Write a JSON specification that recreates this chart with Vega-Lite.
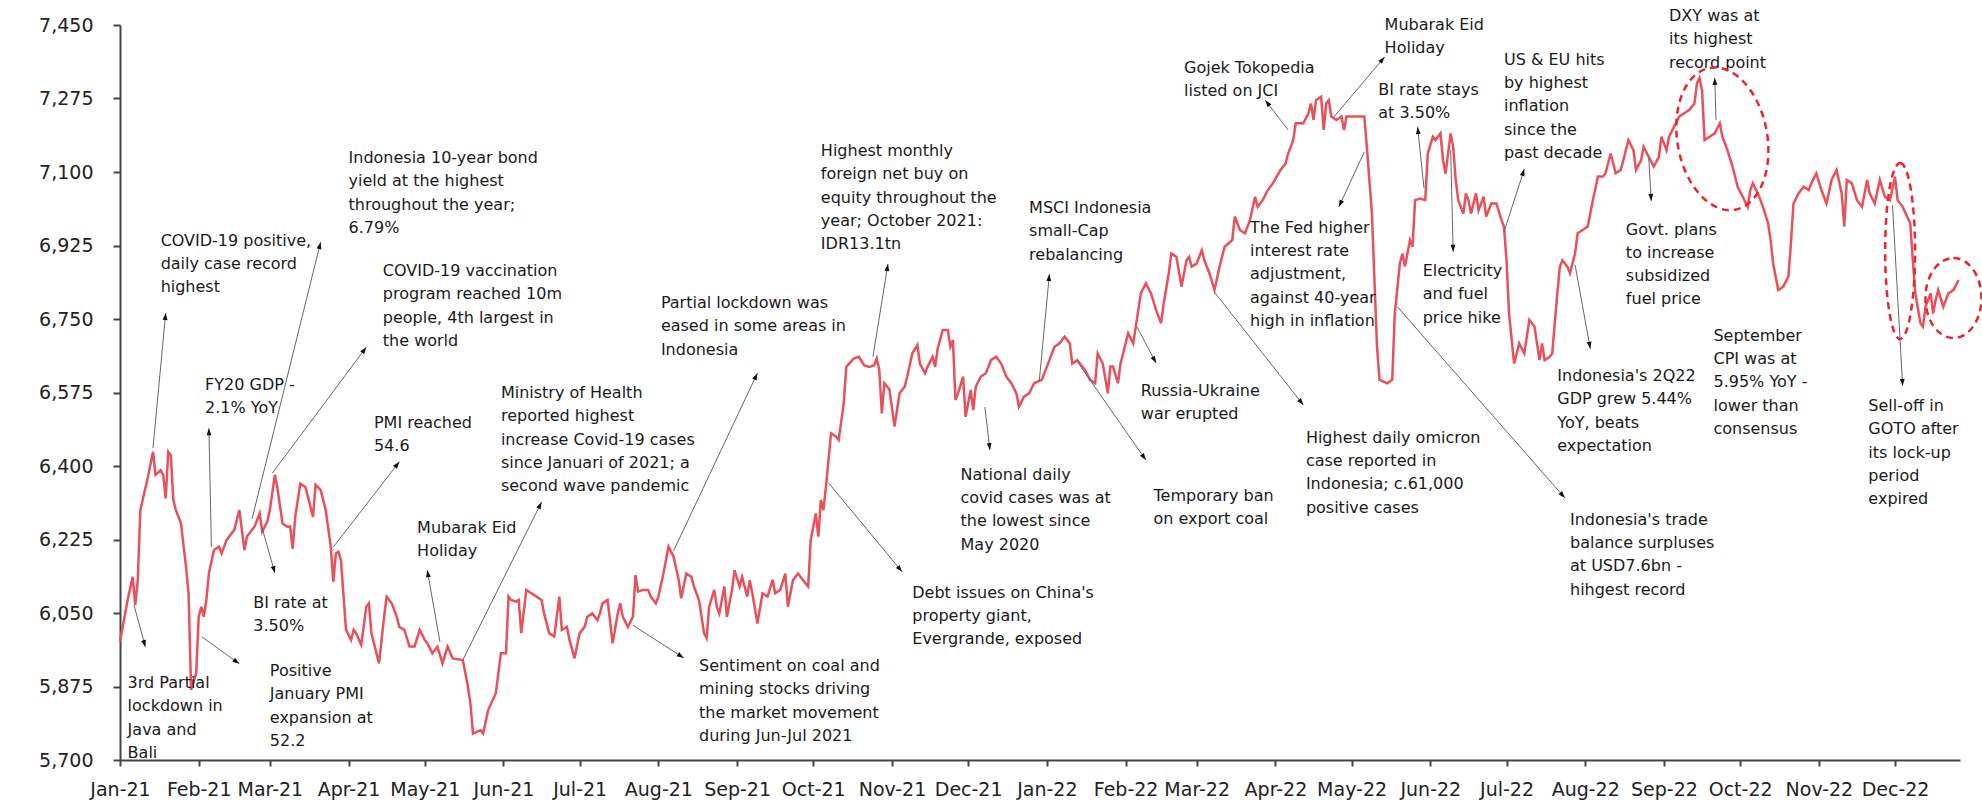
{
"$schema": "https://vega.github.io/schema/vega-lite/v6.json",
"width": 1840, "height": 735,
"autosize": {"type": "none"},
"padding": {"left": 120, "top": 25, "right": 22, "bottom": 44},
"background": "white",
"config": {"view": {"stroke": null}, "font": "DejaVu Sans"},
"datasets": {
"jci": [
{"date":"2021-01-01","v":5982},{"date":"2021-01-04","v":6081},{"date":"2021-01-06","v":6136},{"date":"2021-01-07","v":6069},{"date":"2021-01-08","v":6129},{"date":"2021-01-09","v":6295},{"date":"2021-01-12","v":6374},{"date":"2021-01-14","v":6434},{"date":"2021-01-15","v":6379},{"date":"2021-01-17","v":6390},{"date":"2021-01-18","v":6379},{"date":"2021-01-19","v":6323},{"date":"2021-01-20","v":6434},{"date":"2021-01-21","v":6426},{"date":"2021-01-22","v":6319},{"date":"2021-01-23","v":6295},{"date":"2021-01-25","v":6264},{"date":"2021-01-27","v":6160},{"date":"2021-01-28","v":6097},{"date":"2021-01-29","v":5867},{"date":"2021-01-31","v":5907},
{"date":"2021-02-01","v":6041},{"date":"2021-02-02","v":6065},{"date":"2021-02-03","v":6041},{"date":"2021-02-04","v":6081},{"date":"2021-02-05","v":6144},{"date":"2021-02-07","v":6200},{"date":"2021-02-09","v":6208},{"date":"2021-02-10","v":6192},{"date":"2021-02-12","v":6224},{"date":"2021-02-15","v":6248},{"date":"2021-02-17","v":6295},{"date":"2021-02-19","v":6200},{"date":"2021-02-20","v":6232},{"date":"2021-02-23","v":6256},{"date":"2021-02-25","v":6287},{"date":"2021-02-26","v":6244},{"date":"2021-02-28","v":6267},
{"date":"2021-03-01","v":6295},{"date":"2021-03-03","v":6379},{"date":"2021-03-04","v":6347},{"date":"2021-03-06","v":6263},{"date":"2021-03-08","v":6255},{"date":"2021-03-09","v":6256},{"date":"2021-03-10","v":6203},{"date":"2021-03-11","v":6279},{"date":"2021-03-13","v":6358},{"date":"2021-03-15","v":6350},{"date":"2021-03-18","v":6279},{"date":"2021-03-19","v":6355},{"date":"2021-03-21","v":6343},{"date":"2021-03-23","v":6295},{"date":"2021-03-25","v":6208},{"date":"2021-03-26","v":6124},{"date":"2021-03-27","v":6192},{"date":"2021-03-28","v":6196},{"date":"2021-03-29","v":6176},{"date":"2021-03-31","v":6010},
{"date":"2021-04-02","v":5986},{"date":"2021-04-03","v":6010},{"date":"2021-04-04","v":6002},{"date":"2021-04-06","v":5974},{"date":"2021-04-08","v":6065},{"date":"2021-04-09","v":6073},{"date":"2021-04-10","v":6002},{"date":"2021-04-12","v":5954},{"date":"2021-04-13","v":5930},{"date":"2021-04-15","v":6041},{"date":"2021-04-16","v":6089},{"date":"2021-04-18","v":6073},{"date":"2021-04-20","v":6041},{"date":"2021-04-21","v":6017},{"date":"2021-04-23","v":6010},{"date":"2021-04-25","v":5970},{"date":"2021-04-27","v":5970},{"date":"2021-04-29","v":6010},
{"date":"2021-05-01","v":5986},{"date":"2021-05-02","v":5978},{"date":"2021-05-04","v":5954},{"date":"2021-05-06","v":5970},{"date":"2021-05-08","v":5930},{"date":"2021-05-10","v":5970},{"date":"2021-05-12","v":5942},{"date":"2021-05-16","v":5938},{"date":"2021-05-18","v":5875},{"date":"2021-05-19","v":5835},{"date":"2021-05-20","v":5763},{"date":"2021-05-23","v":5771},{"date":"2021-05-24","v":5763},{"date":"2021-05-26","v":5819},{"date":"2021-05-29","v":5859},{"date":"2021-05-31","v":5954},
{"date":"2021-06-02","v":5954},{"date":"2021-06-03","v":6089},{"date":"2021-06-04","v":6081},{"date":"2021-06-06","v":6077},{"date":"2021-06-07","v":6081},{"date":"2021-06-08","v":6002},{"date":"2021-06-10","v":6105},{"date":"2021-06-12","v":6097},{"date":"2021-06-14","v":6089},{"date":"2021-06-16","v":6081},{"date":"2021-06-17","v":6049},{"date":"2021-06-19","v":6002},{"date":"2021-06-21","v":5994},{"date":"2021-06-23","v":6089},{"date":"2021-06-24","v":6010},{"date":"2021-06-26","v":6017},{"date":"2021-06-27","v":5986},{"date":"2021-06-29","v":5942},
{"date":"2021-07-01","v":6002},{"date":"2021-07-03","v":6017},{"date":"2021-07-04","v":6041},{"date":"2021-07-06","v":6049},{"date":"2021-07-08","v":6033},{"date":"2021-07-09","v":6049},{"date":"2021-07-10","v":6073},{"date":"2021-07-12","v":6081},{"date":"2021-07-14","v":5978},{"date":"2021-07-16","v":6049},{"date":"2021-07-17","v":6073},{"date":"2021-07-18","v":6041},{"date":"2021-07-20","v":6017},{"date":"2021-07-22","v":6041},{"date":"2021-07-23","v":6140},{"date":"2021-07-24","v":6101},{"date":"2021-07-26","v":6105},{"date":"2021-07-28","v":6105},{"date":"2021-07-29","v":6089},{"date":"2021-07-31","v":6073},
{"date":"2021-08-01","v":6089},{"date":"2021-08-03","v":6144},{"date":"2021-08-05","v":6208},{"date":"2021-08-07","v":6184},{"date":"2021-08-09","v":6129},{"date":"2021-08-10","v":6085},{"date":"2021-08-12","v":6144},{"date":"2021-08-14","v":6136},{"date":"2021-08-15","v":6113},{"date":"2021-08-17","v":6081},{"date":"2021-08-19","v":6002},{"date":"2021-08-20","v":5990},{"date":"2021-08-21","v":6065},{"date":"2021-08-23","v":6105},{"date":"2021-08-24","v":6065},{"date":"2021-08-25","v":6049},{"date":"2021-08-27","v":6113},{"date":"2021-08-28","v":6041},{"date":"2021-08-30","v":6105},{"date":"2021-08-31","v":6152},
{"date":"2021-09-02","v":6113},{"date":"2021-09-03","v":6136},{"date":"2021-09-05","v":6089},{"date":"2021-09-06","v":6128},{"date":"2021-09-07","v":6097},{"date":"2021-09-09","v":6025},{"date":"2021-09-11","v":6097},{"date":"2021-09-13","v":6089},{"date":"2021-09-15","v":6129},{"date":"2021-09-16","v":6097},{"date":"2021-09-18","v":6105},{"date":"2021-09-20","v":6144},{"date":"2021-09-21","v":6065},{"date":"2021-09-23","v":6128},{"date":"2021-09-25","v":6144},{"date":"2021-09-27","v":6128},{"date":"2021-09-29","v":6113},{"date":"2021-09-30","v":6224},
{"date":"2021-10-02","v":6287},{"date":"2021-10-03","v":6232},{"date":"2021-10-04","v":6319},{"date":"2021-10-05","v":6295},{"date":"2021-10-06","v":6351},{"date":"2021-10-07","v":6414},{"date":"2021-10-08","v":6478},{"date":"2021-10-10","v":6470},{"date":"2021-10-11","v":6462},{"date":"2021-10-13","v":6549},{"date":"2021-10-14","v":6636},{"date":"2021-10-17","v":6656},{"date":"2021-10-19","v":6660},{"date":"2021-10-21","v":6640},{"date":"2021-10-23","v":6636},{"date":"2021-10-25","v":6640},{"date":"2021-10-26","v":6656},{"date":"2021-10-27","v":6628},{"date":"2021-10-28","v":6525},{"date":"2021-10-29","v":6597},{"date":"2021-10-31","v":6582},
{"date":"2021-11-02","v":6494},{"date":"2021-11-04","v":6573},{"date":"2021-11-06","v":6589},{"date":"2021-11-07","v":6613},{"date":"2021-11-09","v":6668},{"date":"2021-11-11","v":6688},{"date":"2021-11-12","v":6644},{"date":"2021-11-14","v":6621},{"date":"2021-11-15","v":6636},{"date":"2021-11-17","v":6660},{"date":"2021-11-18","v":6636},{"date":"2021-11-19","v":6680},{"date":"2021-11-21","v":6724},{"date":"2021-11-23","v":6724},{"date":"2021-11-24","v":6684},{"date":"2021-11-25","v":6700},{"date":"2021-11-26","v":6557},{"date":"2021-11-27","v":6573},{"date":"2021-11-29","v":6613},{"date":"2021-11-30","v":6517},
{"date":"2021-12-02","v":6581},{"date":"2021-12-03","v":6533},{"date":"2021-12-04","v":6589},{"date":"2021-12-06","v":6613},{"date":"2021-12-08","v":6621},{"date":"2021-12-10","v":6652},{"date":"2021-12-12","v":6660},{"date":"2021-12-14","v":6644},{"date":"2021-12-16","v":6613},{"date":"2021-12-18","v":6597},{"date":"2021-12-20","v":6573},{"date":"2021-12-21","v":6541},{"date":"2021-12-23","v":6565},{"date":"2021-12-25","v":6573},{"date":"2021-12-27","v":6597},{"date":"2021-12-30","v":6605},
{"date":"2022-01-02","v":6652},{"date":"2022-01-04","v":6684},{"date":"2022-01-06","v":6692},{"date":"2022-01-08","v":6708},{"date":"2022-01-10","v":6692},{"date":"2022-01-11","v":6644},{"date":"2022-01-13","v":6652},{"date":"2022-01-16","v":6629},{"date":"2022-01-18","v":6605},{"date":"2022-01-20","v":6597},{"date":"2022-01-21","v":6668},{"date":"2022-01-23","v":6644},{"date":"2022-01-25","v":6573},{"date":"2022-01-26","v":6637},{"date":"2022-01-27","v":6637},{"date":"2022-01-29","v":6597},{"date":"2022-01-30","v":6644},{"date":"2022-01-31","v":6668},
{"date":"2022-02-02","v":6716},{"date":"2022-02-04","v":6692},{"date":"2022-02-06","v":6771},{"date":"2022-02-07","v":6811},{"date":"2022-02-09","v":6835},{"date":"2022-02-11","v":6811},{"date":"2022-02-13","v":6771},{"date":"2022-02-15","v":6740},{"date":"2022-02-16","v":6787},{"date":"2022-02-18","v":6859},{"date":"2022-02-19","v":6906},{"date":"2022-02-21","v":6898},{"date":"2022-02-23","v":6827},{"date":"2022-02-25","v":6890},{"date":"2022-02-26","v":6898},{"date":"2022-02-27","v":6875},
{"date":"2022-03-01","v":6882},{"date":"2022-03-03","v":6914},{"date":"2022-03-04","v":6890},{"date":"2022-03-06","v":6859},{"date":"2022-03-08","v":6819},{"date":"2022-03-10","v":6875},{"date":"2022-03-12","v":6922},{"date":"2022-03-15","v":6938},{"date":"2022-03-16","v":6994},{"date":"2022-03-18","v":6962},{"date":"2022-03-20","v":6954},{"date":"2022-03-22","v":6986},{"date":"2022-03-24","v":7041},{"date":"2022-03-25","v":7017},{"date":"2022-03-27","v":7033},{"date":"2022-03-29","v":7057},{"date":"2022-03-31","v":7073},
{"date":"2022-04-03","v":7105},{"date":"2022-04-05","v":7120},{"date":"2022-04-06","v":7144},{"date":"2022-04-08","v":7176},{"date":"2022-04-09","v":7216},{"date":"2022-04-12","v":7216},{"date":"2022-04-14","v":7240},{"date":"2022-04-15","v":7263},{"date":"2022-04-16","v":7224},{"date":"2022-04-17","v":7271},{"date":"2022-04-19","v":7279},{"date":"2022-04-20","v":7200},{"date":"2022-04-21","v":7263},{"date":"2022-04-22","v":7271},{"date":"2022-04-23","v":7232},{"date":"2022-04-25","v":7224},{"date":"2022-04-27","v":7232},{"date":"2022-04-28","v":7200},{"date":"2022-04-29","v":7232},
{"date":"2022-05-06","v":7232},{"date":"2022-05-07","v":7160},{"date":"2022-05-09","v":7001},{"date":"2022-05-10","v":6843},{"date":"2022-05-11","v":6684},{"date":"2022-05-12","v":6605},{"date":"2022-05-15","v":6597},{"date":"2022-05-17","v":6605},{"date":"2022-05-18","v":6763},{"date":"2022-05-20","v":6882},{"date":"2022-05-21","v":6906},{"date":"2022-05-22","v":6875},{"date":"2022-05-24","v":6938},{"date":"2022-05-25","v":6922},{"date":"2022-05-26","v":7033},{"date":"2022-05-28","v":7037},{"date":"2022-05-30","v":7033},{"date":"2022-05-31","v":7144},
{"date":"2022-06-02","v":7184},{"date":"2022-06-03","v":7176},{"date":"2022-06-05","v":7192},{"date":"2022-06-06","v":7128},{"date":"2022-06-07","v":7096},{"date":"2022-06-09","v":7192},{"date":"2022-06-10","v":7160},{"date":"2022-06-11","v":7081},{"date":"2022-06-12","v":7033},{"date":"2022-06-14","v":7001},{"date":"2022-06-15","v":7049},{"date":"2022-06-16","v":7033},{"date":"2022-06-17","v":7001},{"date":"2022-06-19","v":7049},{"date":"2022-06-20","v":7009},{"date":"2022-06-22","v":7041},{"date":"2022-06-23","v":6994},{"date":"2022-06-25","v":7025},{"date":"2022-06-27","v":7025},{"date":"2022-06-29","v":6986},{"date":"2022-06-30","v":6970},
{"date":"2022-07-01","v":6890},{"date":"2022-07-02","v":6763},{"date":"2022-07-04","v":6644},{"date":"2022-07-06","v":6692},{"date":"2022-07-08","v":6668},{"date":"2022-07-10","v":6748},{"date":"2022-07-11","v":6740},{"date":"2022-07-12","v":6732},{"date":"2022-07-14","v":6652},{"date":"2022-07-15","v":6692},{"date":"2022-07-16","v":6652},{"date":"2022-07-18","v":6660},{"date":"2022-07-19","v":6668},{"date":"2022-07-21","v":6811},{"date":"2022-07-22","v":6874},{"date":"2022-07-23","v":6890},{"date":"2022-07-25","v":6874},{"date":"2022-07-26","v":6859},{"date":"2022-07-28","v":6906},{"date":"2022-07-29","v":6954},{"date":"2022-07-31","v":6962},
{"date":"2022-08-02","v":6970},{"date":"2022-08-04","v":7033},{"date":"2022-08-06","v":7089},{"date":"2022-08-08","v":7089},{"date":"2022-08-09","v":7097},{"date":"2022-08-11","v":7144},{"date":"2022-08-13","v":7097},{"date":"2022-08-15","v":7105},{"date":"2022-08-16","v":7128},{"date":"2022-08-18","v":7176},{"date":"2022-08-20","v":7152},{"date":"2022-08-21","v":7105},{"date":"2022-08-23","v":7128},{"date":"2022-08-24","v":7160},{"date":"2022-08-26","v":7136},{"date":"2022-08-28","v":7113},{"date":"2022-08-30","v":7136},{"date":"2022-08-31","v":7184},
{"date":"2022-09-02","v":7152},{"date":"2022-09-03","v":7184},{"date":"2022-09-05","v":7208},{"date":"2022-09-07","v":7232},{"date":"2022-09-09","v":7240},{"date":"2022-09-11","v":7248},{"date":"2022-09-13","v":7263},{"date":"2022-09-14","v":7311},{"date":"2022-09-15","v":7324},{"date":"2022-09-16","v":7295},{"date":"2022-09-17","v":7176},{"date":"2022-09-19","v":7184},{"date":"2022-09-21","v":7192},{"date":"2022-09-23","v":7216},{"date":"2022-09-24","v":7184},{"date":"2022-09-26","v":7152},{"date":"2022-09-28","v":7113},{"date":"2022-09-30","v":7065},
{"date":"2022-10-02","v":7041},{"date":"2022-10-04","v":7017},{"date":"2022-10-05","v":7057},{"date":"2022-10-06","v":7073},{"date":"2022-10-08","v":7049},{"date":"2022-10-10","v":7017},{"date":"2022-10-12","v":6978},{"date":"2022-10-13","v":6938},{"date":"2022-10-14","v":6882},{"date":"2022-10-16","v":6819},{"date":"2022-10-18","v":6827},{"date":"2022-10-20","v":6851},{"date":"2022-10-21","v":6930},{"date":"2022-10-22","v":7025},{"date":"2022-10-24","v":7049},{"date":"2022-10-26","v":7065},{"date":"2022-10-28","v":7057},{"date":"2022-10-29","v":7073},{"date":"2022-10-31","v":7097},
{"date":"2022-11-02","v":7057},{"date":"2022-11-04","v":7025},{"date":"2022-11-06","v":7081},{"date":"2022-11-08","v":7105},{"date":"2022-11-10","v":7049},{"date":"2022-11-11","v":6970},{"date":"2022-11-12","v":7081},{"date":"2022-11-14","v":7073},{"date":"2022-11-16","v":7033},{"date":"2022-11-18","v":7017},{"date":"2022-11-20","v":7081},{"date":"2022-11-21","v":7049},{"date":"2022-11-23","v":7025},{"date":"2022-11-25","v":7081},{"date":"2022-11-27","v":7041},{"date":"2022-11-29","v":7033},
{"date":"2022-12-01","v":7089},{"date":"2022-12-02","v":7033},{"date":"2022-12-04","v":7017},{"date":"2022-12-07","v":6978},{"date":"2022-12-08","v":6890},{"date":"2022-12-09","v":6811},{"date":"2022-12-11","v":6740},{"date":"2022-12-12","v":6732},{"date":"2022-12-13","v":6779},{"date":"2022-12-15","v":6811},{"date":"2022-12-16","v":6763},{"date":"2022-12-17","v":6795},{"date":"2022-12-18","v":6819},{"date":"2022-12-20","v":6779},{"date":"2022-12-22","v":6811},{"date":"2022-12-24","v":6819},{"date":"2022-12-26","v":6843}
],
"notes": [
{"d":"2021-01-17","v":6955,"t":["COVID-19 positive,","daily case record","highest"]},
{"d":"2021-04-01","v":7152,"t":["Indonesia 10-year bond","yield at the highest","throughout the year;","6.79%"]},
{"d":"2021-04-14T12:00","v":6883,"t":["COVID-19 vaccination","program  reached 10m","people, 4th largest in","the world"]},
{"d":"2021-02-03T12:00","v":6613,"t":["FY20 GDP -","2.1% YoY"]},
{"d":"2021-04-11","v":6521,"t":["PMI reached","54.6"]},
{"d":"2021-05-31","v":6593,"t":["Ministry of Health","reported highest","increase Covid-19 cases","since Januari of 2021; a","second wave pandemic"]},
{"d":"2021-04-28","v":6271,"t":["Mubarak Eid","Holiday"]},
{"d":"2021-02-22T12:00","v":6093,"t":["BI rate at","3.50%"]},
{"d":"2021-03-01","v":5931,"t":["Positive","January PMI","expansion at","52.2"]},
{"d":"2021-01-04","v":5902,"t":["3rd Partial","lockdown in","Java and","Bali"]},
{"d":"2021-08-02","v":6807,"t":["Partial lockdown was","eased in some areas in","Indonesia"]},
{"d":"2021-10-04","v":7169,"t":["Highest monthly","foreign net buy on","equity throughout the","year; October 2021:","IDR13.1tn"]},
{"d":"2021-08-17","v":5943,"t":["Sentiment on coal and","mining stocks driving","the market movement","during Jun-Jul 2021"]},
{"d":"2021-11-09","v":6117,"t":["Debt issues on China's","property giant,","Evergrande, exposed"]},
{"d":"2021-11-28","v":6398,"t":["National daily","covid cases was at","the lowest since","May 2020"]},
{"d":"2021-12-25","v":7033,"t":["MSCI Indonesia","small-Cap","rebalancing"]},
{"d":"2022-02-07","v":6598,"t":["Russia-Ukraine","war erupted"]},
{"d":"2022-02-12","v":6348,"t":["Temporary ban","on export coal"]},
{"d":"2022-04-13","v":6486,"t":["Highest daily omicron","case reported in","Indonesia; c.61,000","positive cases"]},
{"d":"2022-02-24","v":7367,"t":["Gojek Tokopedia","listed on JCI"]},
{"d":"2022-05-14","v":7470,"t":["Mubarak Eid","Holiday"]},
{"d":"2022-03-22","v":6986,"t":["The Fed higher","interest rate","adjustment,","against 40-year","high in inflation"]},
{"d":"2022-05-11T12:00","v":7315,"t":["BI rate stays","at 3.50%"]},
{"d":"2022-05-29","v":6883,"t":["Electricity","and fuel","price hike"]},
{"d":"2022-06-30","v":7386,"t":["US & EU hits","by highest","inflation","since the","past decade"]},
{"d":"2022-07-21","v":6633,"t":["Indonesia's 2Q22","GDP grew 5.44%","YoY, beats","expectation"]},
{"d":"2022-07-26","v":6291,"t":["Indonesia's trade","balance surpluses","at USD7.6bn -","hihgest record"]},
{"d":"2022-08-17","v":6982,"t":["Govt. plans","to increase","subsidized","fuel price"]},
{"d":"2022-09-03","v":7490,"t":["DXY was at","its highest","record point"]},
{"d":"2022-09-20T12:00","v":6729,"t":["September","CPI was at","5.95%  YoY -","lower than","consensus"]},
{"d":"2022-11-20T12:00","v":6562,"t":["Sell-off in","GOTO after","its lock-up","period","expired"]}
],
"leaders": [
{"d1":"2021-01-14","v1":6443,"d2":"2021-01-19","v2":6764},
{"d1":"2021-02-22","v1":6274,"d2":"2021-03-21","v2":6933},
{"d1":"2021-03-02","v1":6383,"d2":"2021-04-08","v2":6683},
{"d1":"2021-02-06","v1":6207,"d2":"2021-02-05","v2":6490},
{"d1":"2021-01-06T12:00","v1":6069,"d2":"2021-01-11","v2":5969},
{"d1":"2021-02-02T07:00","v1":5993,"d2":"2021-02-17","v2":5929},
{"d1":"2021-02-26","v1":6252,"d2":"2021-03-03","v2":6145},
{"d1":"2021-03-26","v1":6207,"d2":"2021-04-21","v2":6410},
{"d1":"2021-05-07","v1":5981,"d2":"2021-05-02","v2":6152},
{"d1":"2021-05-16","v1":5938,"d2":"2021-06-16","v2":6314},
{"d1":"2021-08-07","v1":6198,"d2":"2021-09-09","v2":6621},
{"d1":"2021-07-22","v1":6021,"d2":"2021-08-11","v2":5943},
{"d1":"2021-10-24T12:00","v1":6660,"d2":"2021-10-30T10:00","v2":6881},
{"d1":"2021-10-07","v1":6360,"d2":"2021-11-05","v2":6148},
{"d1":"2021-12-07T14:00","v1":6540,"d2":"2021-12-09T14:00","v2":6438},
{"d1":"2021-12-29","v1":6602,"d2":"2022-01-02","v2":6857},
{"d1":"2022-01-13","v1":6648,"d2":"2022-02-09","v2":6414},
{"d1":"2022-02-05T12:00","v1":6731,"d2":"2022-02-13","v2":6645},
{"d1":"2022-03-08","v1":6814,"d2":"2022-04-12","v2":6545},
{"d1":"2022-04-06","v1":7200,"d2":"2022-03-28","v2":7271},
{"d1":"2022-04-24","v1":7231,"d2":"2022-05-14","v2":7374},
{"d1":"2022-05-06","v1":7148,"d2":"2022-04-26","v2":7017},
{"d1":"2022-05-29T12:00","v1":7062,"d2":"2022-05-27","v2":7207},
{"d1":"2022-05-19","v1":6779,"d2":"2022-07-24","v2":6324},
{"d1":"2022-06-09","v1":7152,"d2":"2022-06-10","v2":6910},
{"d1":"2022-06-30","v1":6957,"d2":"2022-07-08","v2":7107},
{"d1":"2022-07-28","v1":6879,"d2":"2022-08-03","v2":6679},
{"d1":"2022-08-26","v1":7133,"d2":"2022-08-27","v2":7031},
{"d1":"2022-09-21T12:00","v1":7224,"d2":"2022-09-21","v2":7324},
{"d1":"2022-11-30","v1":7021,"d2":"2022-12-04","v2":6591}
],
"ellipses": [
{"id":"dxy","d":"2022-09-24","v":7179},
{"id":"drop","d":"2022-12-03","v":6912},
{"id":"end","d":"2022-12-24","v":6800}
]
},
"layer": [
{
"data": {"name": "jci"},
"mark": {"type": "line", "color": "#E9505A", "strokeWidth": 2.5},
"encoding": {
"x": {"field": "date", "type": "temporal", "title": null,
 "scale": {"domain": [{"year": 2021, "month": 1, "date": 1}, {"year": 2022, "month": 12, "date": 26, "hours": 14}]},
 "axis": {"title": null, "format": "%b-%y", "tickCount": {"interval": "month", "step": 1}, "labelFontSize": 19, "labelColor": "#222", "labelFont": "DejaVu Sans", "labelFlush": false, "labelOverlap": false, "labelBound": false, "tickSize": 6, "tickColor": "#444", "tickWidth": 2, "domainColor": "#444", "domainWidth": 2, "labelPadding": 14, "grid": false}},
"y": {"field": "v", "type": "quantitative", "title": null,
 "scale": {"domain": [5700, 7450], "zero": false, "nice": false},
 "axis": {"title": null, "values": [5700, 5875, 6050, 6225, 6400, 6575, 6750, 6925, 7100, 7275, 7450], "labelExpr": "format(datum.value, ',')", "labelFontSize": 19, "labelColor": "#222", "labelFont": "DejaVu Sans", "labelPadding": 20, "tickSize": 7, "tickColor": "#444", "tickWidth": 2, "domainColor": "#444", "domainWidth": 2, "grid": false}}
}
},
{
"data": {"name": "leaders"},
"mark": {"type": "rule", "color": "#666", "strokeWidth": 1},
"encoding": {
"x": {"field": "d1", "type": "temporal", "title": null},
"y": {"field": "v1", "type": "quantitative", "title": null},
"x2": {"field": "d2"},
"y2": {"field": "v2"}
}
},
{
"data": {"name": "leaders"},
"transform": [{"calculate": "atan2((toDate(datum.d2) - toDate(datum.d1)) / 86400000 * 2.5393, (datum.v2 - datum.v1) * 0.42) * 180 / PI", "as": "ang"}],
"mark": {"type": "point", "shape": "M0,0L0.7,2L-0.7,2Z", "size": 49, "filled": true, "color": "#111", "opacity": 1},
"encoding": {
"x": {"field": "d2", "type": "temporal", "title": null},
"y": {"field": "v2", "type": "quantitative", "title": null},
"angle": {"field": "ang", "type": "quantitative", "scale": null}
}
},
{
"data": {"name": "notes"},
"mark": {"type": "text", "align": "left", "baseline": "top", "fontSize": 16, "lineHeight": 23.3, "font": "DejaVu Sans", "color": "#1a1a1a"},
"encoding": {
"x": {"field": "d", "type": "temporal", "title": null},
"y": {"field": "v", "type": "quantitative", "title": null},
"text": {"field": "t"}
}
},
{
"data": {"name": "ellipses"},
"transform": [{"filter": "datum.id == 'dxy'"}],
"mark": {"type": "point", "shape": "M0,-1C0.345,-1 0.625,-0.552 0.625,0C0.625,0.552 0.345,1 0,1C-0.345,1 -0.625,0.552 -0.625,0C-0.625,-0.552 -0.345,-1 0,-1Z", "size": 20736, "filled": false, "stroke": "#E8262C", "strokeWidth": 2.5, "strokeDash": [7, 5], "opacity": 1, "angle": 350},
"encoding": {
"x": {"field": "d", "type": "temporal", "title": null},
"y": {"field": "v", "type": "quantitative", "title": null}
}
},
{
"data": {"name": "ellipses"},
"transform": [{"filter": "datum.id == 'drop'"}],
"mark": {"type": "point", "shape": "M0,-1C0.094,-1 0.17,-0.552 0.17,0C0.17,0.552 0.094,1 0,1C-0.094,1 -0.17,0.552 -0.17,0C-0.17,-0.552 -0.094,-1 0,-1Z", "size": 30976, "filled": false, "stroke": "#E8262C", "strokeWidth": 2.5, "strokeDash": [7, 5], "opacity": 1},
"encoding": {
"x": {"field": "d", "type": "temporal", "title": null},
"y": {"field": "v", "type": "quantitative", "title": null}
}
},
{
"data": {"name": "ellipses"},
"transform": [{"filter": "datum.id == 'end'"}],
"mark": {"type": "point", "shape": "M0,-1C0.387,-1 0.7,-0.552 0.7,0C0.7,0.552 0.387,1 0,1C-0.387,1 -0.7,0.552 -0.7,0C-0.7,-0.552 -0.387,-1 0,-1Z", "size": 6400, "filled": false, "stroke": "#E8262C", "strokeWidth": 2.5, "strokeDash": [7, 5], "opacity": 1},
"encoding": {
"x": {"field": "d", "type": "temporal", "title": null},
"y": {"field": "v", "type": "quantitative", "title": null}
}
}
]
}
